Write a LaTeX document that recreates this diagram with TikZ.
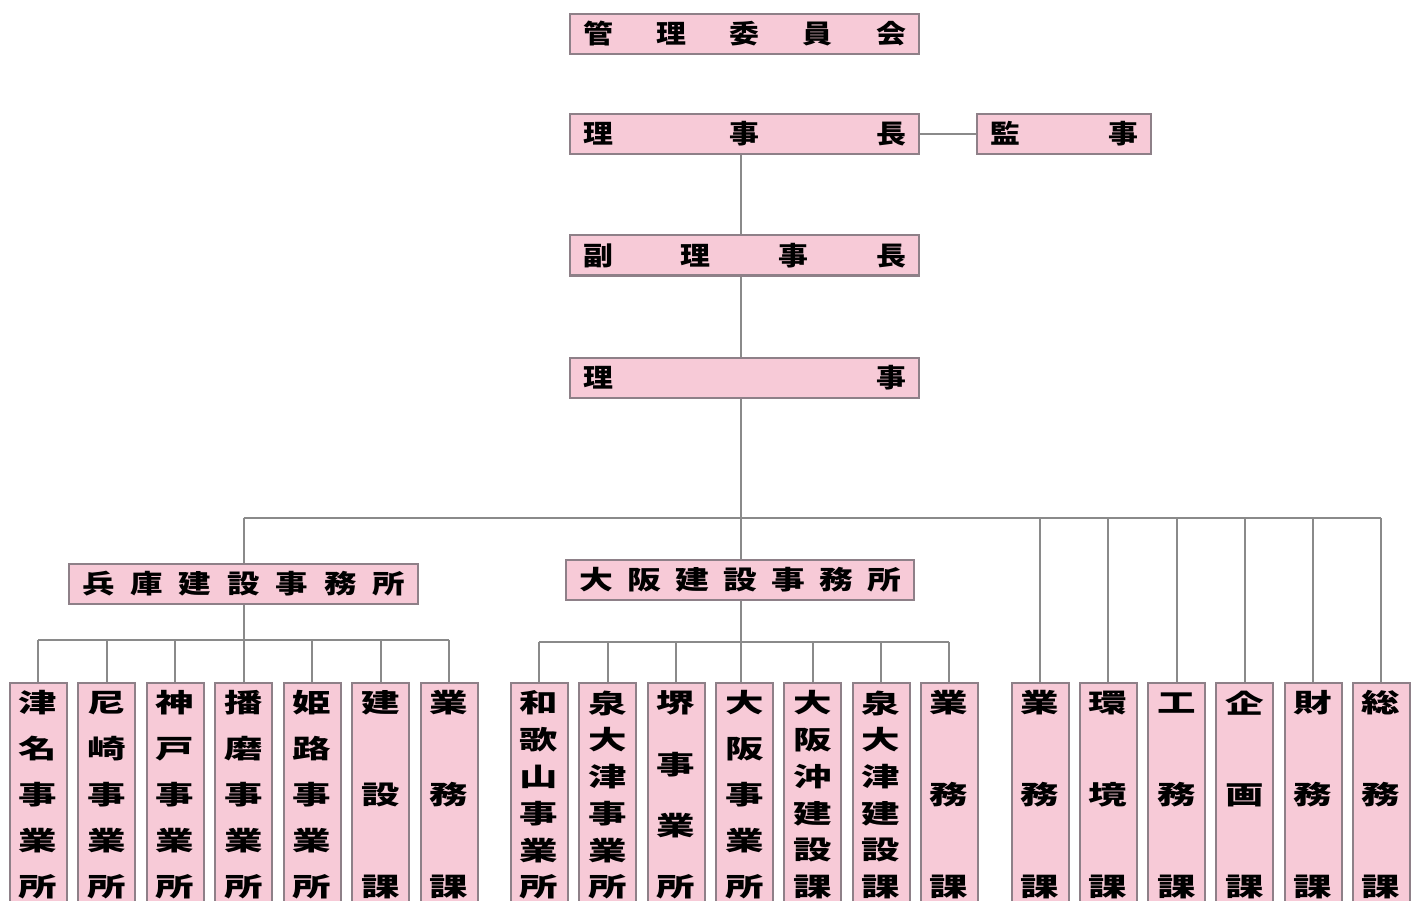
\documentclass[tikz,border=0pt]{standalone}
\usepackage{fontspec}
\newfontfamily\cjk{Noto Sans CJK JP}
\usepackage{graphicx}
\definecolor{boxfill}{HTML}{F7CAD7}
\definecolor{boxline}{HTML}{8E8088}
\definecolor{wirec}{HTML}{8A8A8A}
\newcommand\hrow[3]{\makebox[#1][s]{\foreach \ch [count=\i] in {#3}{\ifnum\i>1\hfill\fi\scalebox{#2}[1]{\ch}}}}
\tikzset{
  hbox/.style={draw=boxline, fill=boxfill, line width=2pt, inner xsep=13pt, inner ysep=0pt,
    minimum height=40pt, font=\cjk\bfseries\fontsize{26}{26}\selectfont},
  cbox/.style={draw=boxline, fill=boxfill, line width=2pt, minimum width=57pt,
    minimum height=260pt, anchor=north, inner sep=0pt},
  ctext/.style={inner sep=0pt, font=\cjk\bfseries\fontsize{26}{26}\selectfont},
  wire/.style={draw=wirec, line width=2pt},
}
\newcommand\vcol[4]{%
  \node[cbox] (#1) at (#2,682) {};
  \foreach \ch [count=\i] in {#4}{%
    \pgfmathsetmacro\yy{703+(\i-1)*184/(#3-1)}%
    \node[ctext] (#1-\i) at (#2,\yy) {\scalebox{1.48}[1]{\ch}};
  }%
}
\begin{document}
\begin{tikzpicture}[x=1pt,y=-1pt]
\useasboundingbox (0,0) rectangle (1418,901);
\clip (0,0) rectangle (1418,901);
% top chain
\node[hbox] (kanri) at (744.5,34) {\hrow{323pt}{1.15}{管,理,委,員,会}};
\node[hbox] (richo) at (744.5,134) {\hrow{323pt}{1.15}{理,事,長}};
\node[hbox] (kanji) at (1064,134) {\hrow{148pt}{1.15}{監,事}};
\node[hbox] (fuku) at (744.5,255.5) {\hrow{323pt}{1.15}{副,理,事,長}};
\node[hbox] (riji) at (744.5,378) {\hrow{323pt}{1.15}{理,事}};
\node[hbox] (hyogo) at (243.5,583.5) {\hrow{323pt}{1.25}{兵,庫,建,設,事,務,所}};
\node[hbox] (osaka) at (740,580) {\hrow{322pt}{1.3}{大,阪,建,設,事,務,所}};
% Hyogo columns
\vcol{y1}{38}{5}{津,名,事,業,所}
\vcol{y2}{106.5}{5}{尼,崎,事,業,所}
\vcol{y3}{175}{5}{神,戸,事,業,所}
\vcol{y4}{243.5}{5}{播,磨,事,業,所}
\vcol{y5}{312}{5}{姫,路,事,業,所}
\vcol{y6}{380.5}{3}{建,設,課}
\vcol{y7}{449}{3}{業,務,課}
% Osaka columns
\vcol{o1}{539}{6}{和,歌,山,事,業,所}
\vcol{o2}{607.5}{6}{泉,大,津,事,業,所}
\vcol{o3}{676}{4}{堺,事,業,所}
\vcol{o4}{744.5}{5}{大,阪,事,業,所}
\vcol{o5}{812.5}{6}{大,阪,沖,建,設,課}
\vcol{o6}{881}{6}{泉,大,津,建,設,課}
\vcol{o7}{949}{3}{業,務,課}
% HQ columns
\vcol{h1}{1040}{3}{業,務,課}
\vcol{h2}{1108}{3}{環,境,課}
\vcol{h3}{1176.5}{3}{工,務,課}
\vcol{h4}{1244.5}{3}{企,画,課}
\vcol{h5}{1313}{3}{財,務,課}
\vcol{h6}{1381}{3}{総,務,課}
% connectors
\coordinate (busC) at (741,518);
\coordinate (hbus) at (0,640);
\coordinate (obus) at (0,642);
\draw[wire] (richo.east) -- (kanji.west);
\draw[wire] (richo.south -| busC) -- (fuku.north -| busC);
\draw[wire] (fuku.south -| busC) -- (riji.north -| busC);
\draw[wire] (riji.south -| busC) -- (busC);
\draw[wire] (hyogo.north |- busC) -- (h6.north |- busC);
\draw[wire] (hyogo.north) -- (hyogo.north |- busC);
\draw[wire] (busC) -- (osaka.north -| busC);
\foreach \k in {1,...,6}{\draw[wire] (h\k.north) -- (h\k.north |- busC);}
\draw[wire] (hyogo.south) -- (hyogo.south |- hbus);
\draw[wire] (y1.north |- hbus) -- (y7.north |- hbus);
\foreach \k in {1,2,3,4,5,6,7}{\draw[wire] (y\k.north) -- (y\k.north |- hbus);}
\draw[wire] (osaka.south -| busC) -- (busC |- obus);
\draw[wire] (o1.north |- obus) -- (o7.north |- obus);
\foreach \k in {1,2,3,5,6,7}{\draw[wire] (o\k.north) -- (o\k.north |- obus);}
\draw[wire] (o4.north -| busC) -- (busC |- obus);
\end{tikzpicture}
\end{document}
